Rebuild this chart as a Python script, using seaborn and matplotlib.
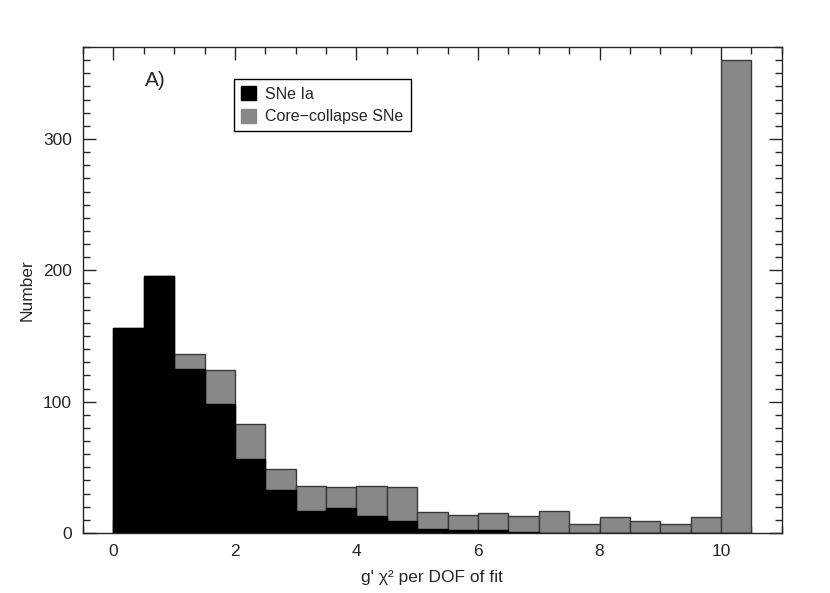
import numpy as np
import pandas as pd
import seaborn as sns
import matplotlib
matplotlib.use("Agg")
import matplotlib.pyplot as plt
from matplotlib.ticker import MultipleLocator
from matplotlib.patches import Patch

# Bordas dos bins (largura 0.5) e contagens
bin_edges = [i * 0.5 for i in range(22)]
ia_counts = [156, 196, 125, 98, 56, 33, 17, 19, 13, 9, 3, 2, 2, 1, 0, 0, 0, 0, 0, 0, 0]
cc_counts = [0, 0, 11, 26, 27, 16, 19, 16, 23, 26, 13, 12, 13, 12, 17, 7, 12, 9, 7, 12, 360]
series_labels = ["SNe Ia", "Core\u2212collapse SNe"]
panel_label = "A)"

edges = np.array(bin_edges)
centers = (edges[:-1] + edges[1:]) / 2
df = pd.DataFrame({"chi2": centers, "ia": ia_counts, "cc": cc_counts})
df["total"] = df["ia"] + df["cc"]

sns.set_style("ticks")
plt.rcParams["font.family"] = ["Liberation Sans", "DejaVu Sans"]

fig = plt.figure(figsize=(8.3, 5.93), dpi=100)
ax = fig.add_axes([0.1, 0.1012, 0.842, 0.8195])

# Histograma total (cinza) e SNe Ia por cima (preto)
sns.histplot(data=df, x="chi2", weights="total", bins=bin_edges, color="#888888",
             edgecolor="#3a3a3a", linewidth=1.0, alpha=1, ax=ax)
sns.histplot(data=df, x="chi2", weights="ia", bins=bin_edges, color="black",
             edgecolor="black", linewidth=1.0, alpha=1, ax=ax)

ax.set_xlim(-0.5, 11)
ax.set_ylim(0, 370)
ax.xaxis.set_major_locator(MultipleLocator(2))
ax.xaxis.set_minor_locator(MultipleLocator(0.5))
ax.yaxis.set_major_locator(MultipleLocator(100))
ax.yaxis.set_minor_locator(MultipleLocator(10))
ax.tick_params(which="both", direction="in", top=True, right=True, labelsize=12.5, width=1)
ax.tick_params(which="major", length=9.5, pad=8)
ax.tick_params(which="minor", length=5)
for s in ax.spines.values():
    s.set_linewidth(1)

ax.set_xlabel("g' \u03c7\u00b2 per DOF of fit", fontsize=12.5, labelpad=8)
ax.set_ylabel("Number", fontsize=12.5, labelpad=6)

ax.text(0.089, 0.932, panel_label, transform=ax.transAxes, fontsize=15, va="center", ha="left")

handles = [Patch(facecolor="black", edgecolor="black"),
           Patch(facecolor="#888888", edgecolor="#888888")]
ax.legend(handles, series_labels, loc="upper left", bbox_to_anchor=(0.216, 0.934),
          borderaxespad=0, fontsize=11.5, frameon=True, fancybox=False, edgecolor="black",
          framealpha=1, handlelength=0.95, handleheight=0.95, handletextpad=0.55,
          borderpad=0.45, labelspacing=0.45).get_frame().set_linewidth(1)

plt.savefig("out.png", dpi=100)
